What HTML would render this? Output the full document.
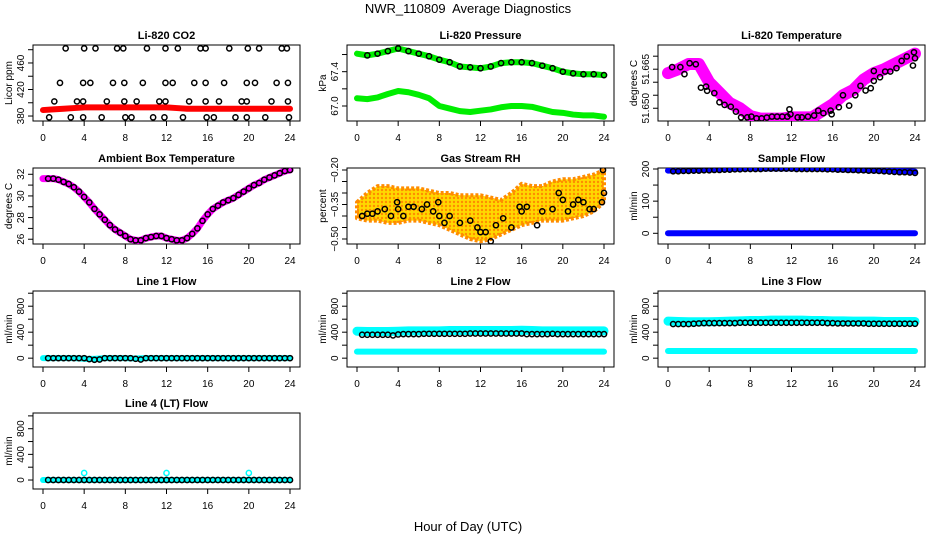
<!DOCTYPE html>
<html><head><meta charset="utf-8"><style>
html,body{margin:0;padding:0;background:#fff;}
svg{display:block;font-family:"Liberation Sans",Arial,sans-serif;}
</style></head><body>
<svg id="chart" width="936" height="540" viewBox="0 0 936 540" xmlns="http://www.w3.org/2000/svg">
<rect width="936" height="540" fill="#fff"/>
<defs>
<pattern id="rhpat" width="4" height="4" patternUnits="userSpaceOnUse"><rect width="4" height="4" fill="#ffd800"/><circle cx="2" cy="2" r="1.2" fill="#ff8c00"/></pattern>
</defs>
<text x="468" y="13" text-anchor="middle" font-size="13" xml:space="preserve">NWR_110809  Average Diagnostics</text>
<text x="468" y="531" text-anchor="middle" font-size="13">Hour of Day (UTC)</text>
<g id="panels"></g>
</svg>
<script>
// ---- data ----
const hours25 = [0,1,2,3,4,5,6,7,8,9,10,11,12,13,14,15,16,17,18,19,20,21,22,23,24];
const xTicks = [0,4,8,12,16,20,24];
const co2Red = [389,390,391,392,393,393,393,393,393,393,393,393,393,392,391,391,391,391,391,391,391,391,391,391,391];
const co2OutH = [2.2,4.0,5.1,7.2,7.8,10.1,11.9,13.1,15.3,15.8,18.1,19.9,21.0,23.2,23.7, 1.65,3.9,4.6,6.8,7.9,9.7,11.9,12.6,14.7,15.8,17.6,19.8,20.6,22.7,23.8, 1.1,3.3,3.9,6.2,7.9,9.1,11.3,11.9,14.2,15.8,17.1,19.3,19.8,22.2,23.8, 0.6,2.7,3.9,5.7,8.0,8.6,10.7,11.8,13.6,15.9,16.6,18.7,19.8,21.6,23.9];
const co2OutV = [482,482,482,482,482,482,482,482,482,482,482,482,482,482,482, 430,430,430,430,430,430,430,430,430,430,430,430,430,430,430, 402,402,402,402,402,402,402,402,402,402,402,402,402,402,402, 378,378,378,378,378,378,378,378,378,378,378,378,378,378,378];
const pressUpper = [67.61,67.59,67.61,67.64,67.67,67.64,67.61,67.58,67.54,67.51,67.46,67.45,67.44,67.46,67.50,67.51,67.51,67.50,67.47,67.44,67.40,67.38,67.37,67.37,67.36];
const pressLower = [67.09,67.08,67.10,67.14,67.175,67.16,67.13,67.09,67.00,66.97,66.94,66.93,66.945,66.96,66.985,67.0,67.0,66.99,66.96,66.93,66.92,66.90,66.89,66.89,66.875];
const tempMag = [51.6635,51.665,51.667,51.667,51.660,51.656,51.652,51.650,51.647,51.646,51.646,51.646,51.6465,51.6465,51.6465,51.649,51.6515,51.655,51.657,51.661,51.6635,51.665,51.667,51.669,51.671];
const tempBlkH = [0.4,1.2,1.6,2.1,2.7,3.2,3.7,3.8,4.5,5.0,5.5,6.1,6.6,7.1,7.7,8.1,8.6,9.1,9.6,10.1,10.6,11.1,11.6,11.8,11.9,12.6,13.0,13.6,14.2,14.6,15.1,15.8,15.9,16.6,17.0,17.6,18.2,18.7,19.2,19.7,20.0,20.0,20.6,21.1,21.6,22.2,22.7,23.2,23.8,23.9,24.0];
const tempBlkV = [51.6658,51.6658,51.6631,51.6673,51.6669,51.6579,51.6583,51.6567,51.6558,51.6523,51.6513,51.6506,51.6487,51.6465,51.6465,51.6468,51.6461,51.6461,51.6464,51.6468,51.6468,51.6468,51.6468,51.6496,51.6477,51.6465,51.6465,51.6468,51.6472,51.6491,51.6481,51.6491,51.6477,51.6504,51.6550,51.6510,51.6550,51.6586,51.6568,51.6577,51.6643,51.6605,51.6619,51.6641,51.6641,51.6654,51.6682,51.6699,51.6664,51.6715,51.6692];
const ambient = [31.6,31.6,31.6,31.5,31.3,31.1,30.8,30.4,29.9,29.4,28.8,28.3,27.8,27.3,26.9,26.6,26.3,26.0,25.9,25.9,26.1,26.2,26.3,26.3,26.1,26.0,25.9,25.9,26.1,26.5,27.0,27.7,28.3,28.8,29.1,29.4,29.6,29.8,30.1,30.4,30.7,31.0,31.2,31.5,31.7,31.9,32.1,32.3,32.4];
const rhLo = [-0.41,-0.42,-0.42,-0.43,-0.43,-0.42,-0.42,-0.43,-0.44,-0.46,-0.48,-0.50,-0.51,-0.50,-0.48,-0.46,-0.44,-0.43,-0.42,-0.42,-0.42,-0.41,-0.40,-0.38,-0.34];
const rhHi = [-0.34,-0.30,-0.27,-0.27,-0.28,-0.28,-0.28,-0.29,-0.30,-0.30,-0.31,-0.31,-0.31,-0.32,-0.33,-0.30,-0.26,-0.27,-0.27,-0.25,-0.24,-0.24,-0.23,-0.22,-0.20];
const rhBlkH = [0.5,1,1.5,2,2.7,3.3,3.9,4,4.5,5,5.5,6.3,6.8,7.4,7.9,8,8.5,9,10,11,11.7,12,12.5,13,13.5,14.2,15,15.8,16,16.5,17.5,18,19,19.6,20,20.5,21,21.5,22,22.6,23,23.8,23.9,24];
const rhBlkV = [-0.40,-0.39,-0.39,-0.38,-0.37,-0.40,-0.34,-0.37,-0.40,-0.36,-0.36,-0.37,-0.35,-0.38,-0.34,-0.40,-0.43,-0.40,-0.43,-0.42,-0.45,-0.47,-0.47,-0.51,-0.44,-0.41,-0.45,-0.36,-0.38,-0.36,-0.44,-0.38,-0.37,-0.30,-0.33,-0.38,-0.35,-0.33,-0.34,-0.37,-0.37,-0.34,-0.20,-0.30];
const sfBlue = [195,196,197,198,199,200,201,201,202,202,202,202,202,202,202,201,200,199,198,197,196,195,194,193,192];
const sfZero = [0,0,0,0,0,0,0,0,0,0,0,0,0,0,0,0,0,0,0,0,0,0,0,0,0];
const sfBlack = [193,193,194,194,195,195,196,196,197,197,198,198,199,199,200,200,200,200,201,201,201,201,201,201,200,200,200,200,200,200,199,199,198,198,197,197,196,196,195,195,194,193,192,191,190,190,189,188];
const l1Cyan = [0,0,0,0,-10,-10,0,0,0,-5,0,0,0,0,0,0,0,0,0,0,0,0,0,0,0];
const l1Black = [0,0,0,0,0,0,0,0,-15,-25,-20,0,0,0,0,0,0,-10,-20,0,0,0,0,0,0,0,0,0,0,0,0,0,0,0,0,0,0,0,0,0,0,0,0,0,0,0,0,0];
const l2CyanTop = [415,410,410,410,415,420,420,420,420,425,425,425,425,425,425,425,430,425,420,420,420,420,420,420,420];
const l2CyanBot = [100,100,100,100,100,100,100,100,100,100,100,100,100,100,100,100,100,100,100,100,100,100,100,100,100];
const l2Black = [360,360,360,360,360,360,350,365,370,370,370,370,375,375,375,375,375,375,375,375,375,380,380,380,380,380,380,380,380,380,380,380,370,370,370,370,370,375,370,370,370,370,370,370,370,370,370,370];
const l3CyanTop = [570,565,560,560,560,565,570,575,580,580,585,585,585,585,580,580,575,575,570,570,570,565,565,565,565];
const l3CyanBot = [110,110,110,110,110,110,110,110,110,110,110,110,110,110,110,110,110,110,110,110,110,110,110,110,110];
const l3Black = [525,525,525,525,530,535,540,540,540,540,540,540,540,545,545,545,545,545,545,545,545,545,545,545,545,545,545,545,545,545,540,540,535,535,535,535,535,535,530,530,530,530,530,530,530,530,530,530];
const l4Cyan = [0,0,0,0,0,0,0,0,0,0,0,0,0,0,0,0,0,0,0,0,0,0,0,0,0];
const l4OutH = [4,12,20];
const l4OutV = [110,110,110];
const l4Black = [0,0,0,0,0,0,0,0,0,0,0,0,0,0,0,0,0,0,0,0,0,0,0,0,0,0,0,0,0,0,0,0,0,0,0,0,0,0,0,0,0,0,0,0,0,0,0,0];

const NS = 'http://www.w3.org/2000/svg';
const root = document.getElementById('panels');
function mk(tag, attrs, parent){const e=document.createElementNS(NS,tag);for(const k in attrs)e.setAttribute(k,attrs[k]);(parent||root).appendChild(e);return e;}
const colX=[33,347,658], rowY=[45,168,291,413], W=267, H=76;

function panel(name,col,row,title,ylab,ymin,ymax,ticks,labels,fmt){
  const x0=colX[col], y0=rowY[row];
  const g=mk('g',{});
  
  
  const sx=h=>x0+10+h*247/24;
  const sy=v=>y0+H-(v-ymin)/(ymax-ymin)*H;
  const t=mk('text',{x:x0+W/2,y:y0-6,'text-anchor':'middle','font-size':11,'font-weight':'bold'},g);
  t.textContent=title;
  
  
  const box=mk('rect',{x:x0,y:y0,width:W,height:H,fill:'none',stroke:'#000','stroke-width':1},g);
  
  
  const xa=mk('g',{},g);
  
  
  xTicks.forEach(h=>{
    mk('line',{x1:sx(h),x2:sx(h),y1:y0+H,y2:y0+H+5,stroke:'#000'},xa);
    const l=mk('text',{x:sx(h),y:y0+H+20,'text-anchor':'middle','font-size':10},xa);
    l.textContent=h;
  });
  const ya=mk('g',{},g);
  
  
  mk('line',{x1:x0,x2:x0,y1:sy(ticks[0]),y2:sy(ticks[ticks.length-1]),stroke:'#000'},ya);
  ticks.forEach(v=>mk('line',{x1:x0-5,x2:x0,y1:sy(v),y2:sy(v),stroke:'#000'},ya));
  labels.forEach(v=>{
    const yy=sy(v), xx=x0-9;
    const l=mk('text',{x:xx,y:yy,'text-anchor':'middle','font-size':10,transform:`rotate(-90 ${xx} ${yy})`},ya);
    l.textContent=fmt?fmt(v):v;
  });
  const yt=mk('text',{x:x0-21,y:y0+H/2,'text-anchor':'middle','font-size':10,transform:`rotate(-90 ${x0-21} ${y0+H/2})`},g);
  yt.textContent=ylab;
  
  
  const clip='clip-'+name;
  const cp=mk('clipPath',{id:clip},g); mk('rect',{x:x0,y:y0,width:W,height:H},cp);
  const plot=mk('g',{'clip-path':`url(#${clip})`},g);
  return {sx,sy,g:plot};
}
function band(p,name,hs,vs,color,w){
  const pts=hs.map((h,i)=>p.sx(h)+','+p.sy(vs[i])).join(' ');
  const e=mk('polyline',{points:pts,fill:'none',stroke:color,'stroke-width':w,'stroke-linejoin':'round','stroke-linecap':'round'},p.g);
  
  
}
function dots(p,name,hs,vs,color){
  const g=mk('g',{},p.g);
  
  
  hs.forEach((h,i)=>mk('circle',{cx:p.sx(h),cy:p.sy(vs[i]),r:2.6,fill:'none',stroke:color,'stroke-width':1.5},g));
}
const half48 = sfBlack.map((_,i)=>(i+1)*0.5);
const half49 = ambient.map((_,i)=>i*0.5);

// P1 CO2
let p=panel('co2',0,0,'Li-820 CO2','Licor ppm',372.5,487.1,[380,400,420,440,460,480],[380,420,460]);
band(p,'co2-series',hours25,co2Red,'#ff0000',6);
dots(p,'co2-hourly-points',co2OutH,co2OutV,'#000');
// P2 pressure
p=panel('pressure',1,0,'Li-820 Pressure','kPa',66.825,67.711,[67.0,67.2,67.4,67.6],[67.0,67.4],v=>v.toFixed(1));
band(p,'pressure-upper-series',hours25,pressUpper,'#00ee00',6);
band(p,'pressure-lower-series',hours25,pressLower,'#00ee00',6);
dots(p,'pressure-hourly-points',hours25.slice(1),pressUpper.slice(1),'#000');
// P3 temperature
p=panel('li820-temp',2,0,'Li-820 Temperature','degrees C',51.6451,51.6743,[51.650,51.655,51.660,51.665,51.670],[51.650,51.665],v=>v.toFixed(3));
band(p,'li820-temp-series',hours25,tempMag,'#ff00ff',12);
dots(p,'li820-temp-hourly-points',tempBlkH,tempBlkV,'#000');
// P4 ambient
p=panel('ambient-temp',0,1,'Ambient Box Temperature','degrees C',25.56,32.58,[26,27,28,29,30,31,32],[26,28,30,32]);
band(p,'ambient-temp-series',half49,ambient,'#ff00ff',7);
dots(p,'ambient-temp-hourly-points',half49.slice(1),ambient.slice(1),'#000');
// P5 RH
p=panel('gas-rh',1,1,'Gas Stream RH','percent',-0.5217,-0.1913,[-0.50,-0.45,-0.40,-0.35,-0.30,-0.25,-0.20],[-0.50,-0.35,-0.20],v=>'\u2212'+Math.abs(v).toFixed(2));
{
  const top=hours25.map((h,i)=>p.sx(h)+','+p.sy(rhHi[i]));
  const bot=hours25.map((h,i)=>p.sx(h)+','+p.sy(rhLo[i])).reverse();
  const e=mk('polygon',{points:top.concat(bot).join(' '),fill:'url(#rhpat)',stroke:'#ff8c00','stroke-width':4,'stroke-linejoin':'round','stroke-dasharray':'3 2'},p.g);
  
  
}
dots(p,'gas-rh-hourly-points',rhBlkH,rhBlkV,'#000');
// P6 sample flow
p=panel('sample-flow',2,1,'Sample Flow','ml/min',-33.3,203.1,[0,50,100,150,200],[0,100,200]);
band(p,'sample-flow-series',hours25,sfBlue,'#0000ff',6);
band(p,'sample-flow-zero-series',hours25,sfZero,'#0000ff',6);
dots(p,'sample-flow-hourly-points',half48,sfBlack,'#000');
// Line flows
const ft=[0,200,400,600,800,1000], fl=[0,400,800];
p=panel('line1-flow',0,2,'Line 1 Flow','ml/min',-136,1034,ft,fl);
band(p,'line1-flow-series',hours25,l1Cyan,'#00ffff',6);
dots(p,'line1-flow-hourly-points',half48,l1Black,'#000');
p=panel('line2-flow',1,2,'Line 2 Flow','ml/min',-136,1034,ft,fl);
band(p,'line2-flow-upper-series',hours25,l2CyanTop,'#00ffff',9);
band(p,'line2-flow-lower-series',hours25,l2CyanBot,'#00ffff',6);
dots(p,'line2-flow-hourly-points',half48,l2Black,'#000');
p=panel('line3-flow',2,2,'Line 3 Flow','ml/min',-136,1034,ft,fl);
band(p,'line3-flow-upper-series',hours25,l3CyanTop,'#00ffff',9);
band(p,'line3-flow-lower-series',hours25,l3CyanBot,'#00ffff',6);
dots(p,'line3-flow-hourly-points',half48,l3Black,'#000');
p=panel('line4-flow',0,3,'Line 4 (LT) Flow','ml/min',-140,1045,ft,fl);
band(p,'line4-flow-series',hours25,l4Cyan,'#00ffff',6);
dots(p,'line4-flow-outliers',l4OutH,l4OutV,'#00ffff');
dots(p,'line4-flow-hourly-points',half48,l4Black,'#000');
</script>
</body></html>
